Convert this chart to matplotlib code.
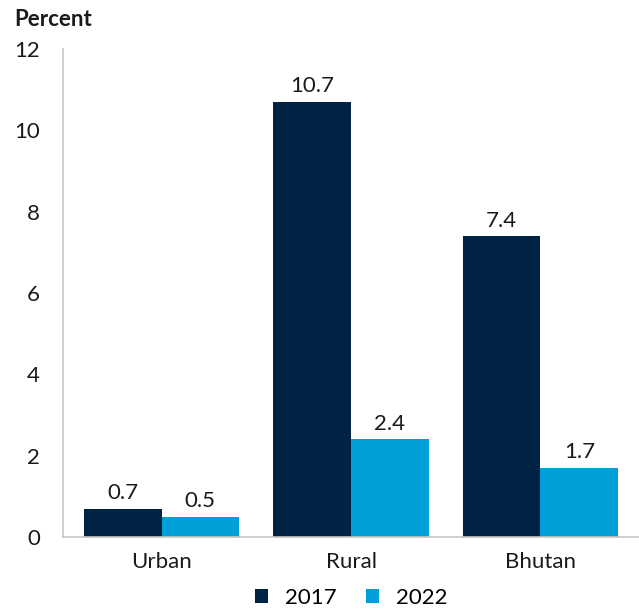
import matplotlib
matplotlib.use("Agg")
import matplotlib.pyplot as plt
import numpy as np

plt.rcParams['font.family'] = ['Lato', 'DejaVu Sans']

categories = ["Urban", "Rural", "Bhutan"]
years = ["2017", "2022"]
values_2017 = [0.7, 10.7, 7.4]
values_2022 = [0.5, 2.4, 1.7]
yticks = [0, 2, 4, 6, 8, 10, 12]

dark = "#002345"
light = "#009FDA"
spine_col = "#C9C5C0"
text_col = "#1a1a1a"
fs = 16

fig = plt.figure(figsize=(6.39, 6.10), dpi=100)
ax = fig.add_axes([63/639, 73/610, 576/639, 488/610])

x = np.arange(len(categories))
w = 0.41
b1 = ax.bar(x - w/2, values_2017, w, color=dark, label=years[0])
b2 = ax.bar(x + w/2, values_2022, w, color=light, label=years[1])

for bars, vals in ((b1, values_2017), (b2, values_2022)):
    for r, v in zip(bars, vals):
        ax.annotate(f"{v:.1f}", (r.get_x() + r.get_width()/2, v),
                    xytext=(0, 4), textcoords="offset points",
                    ha="center", va="bottom", fontsize=fs, color=text_col)

ax.set_xlim(-0.52, 2.52)
ax.set_ylim(0, 12)
ax.set_yticks(yticks)
ax.set_yticklabels([str(t) for t in yticks])
ax.set_xticks(x)
ax.set_xticklabels(categories)
ax.tick_params(axis='both', length=0, labelsize=fs, colors=text_col)
ax.tick_params(axis='y', pad=16.5)
ax.tick_params(axis='x', pad=11)

for s in ("top", "right"):
    ax.spines[s].set_visible(False)
for s in ("left", "bottom"):
    ax.spines[s].set_color(spine_col)
    ax.spines[s].set_linewidth(1.2)

fig.text(14/639, 1 - 19/610, "Percent", fontsize=fs, fontweight="bold",
         ha="left", va="center", color=text_col)

ax.legend(loc="center", bbox_to_anchor=(0.5, -0.125), ncol=2, frameon=False,
          fontsize=fs, handlelength=0.6, handleheight=0.6, handletextpad=0.75,
          columnspacing=1.3)

fig.savefig("out.png", dpi=100)
